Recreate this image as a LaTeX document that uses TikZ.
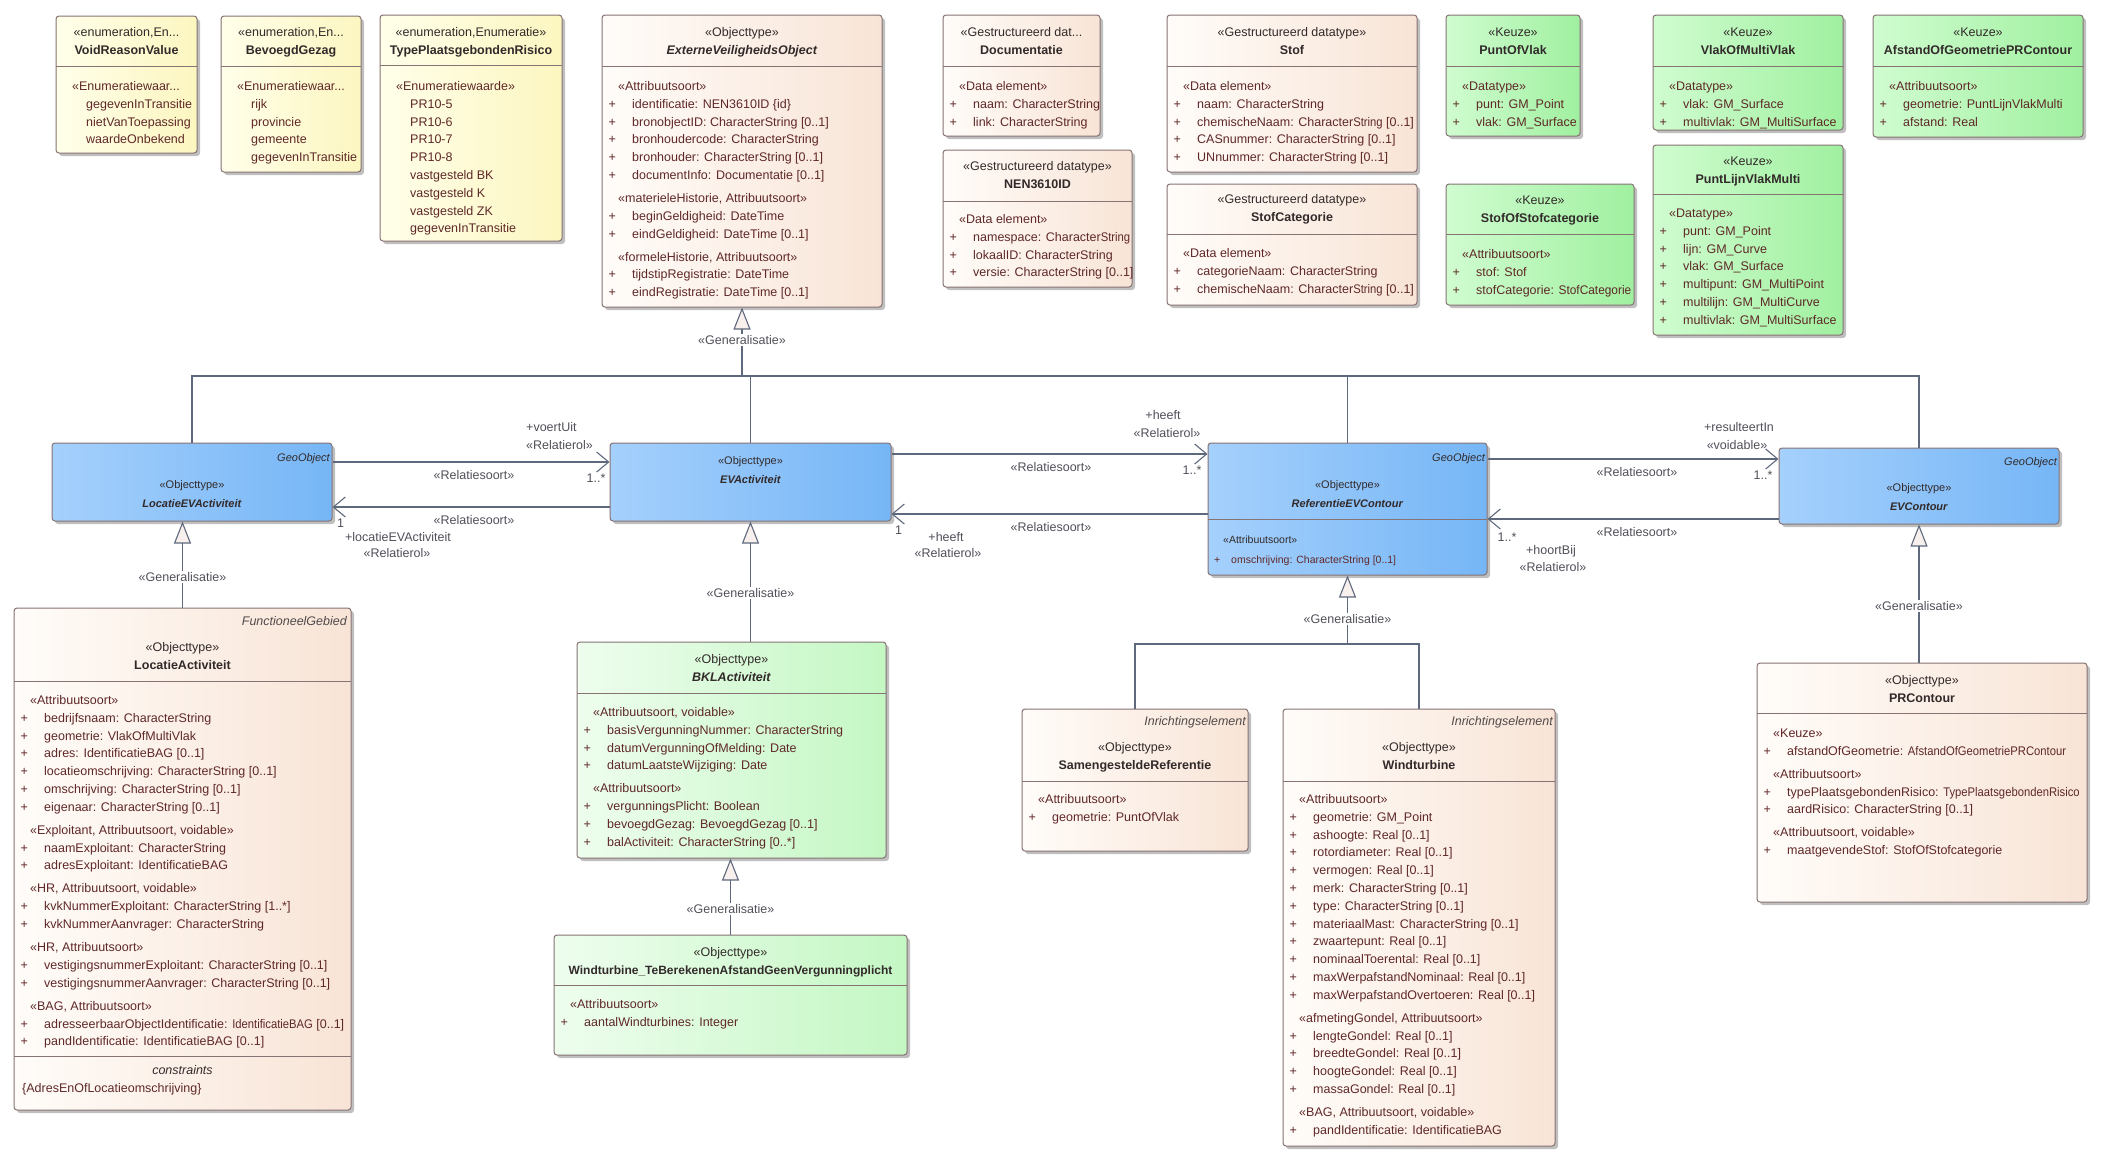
\documentclass[tikz,border=0pt]{standalone}
\usepackage{fontspec}
\usepackage{graphicx}
\setmainfont{Liberation Sans}
\usetikzlibrary{arrows.meta,shadows,fit}
\definecolor{bordc}{RGB}{135,115,115}
\definecolor{yelL}{RGB}{255,255,234}
\definecolor{yelR}{RGB}{252,246,192}
\definecolor{begL}{RGB}{255,252,249}
\definecolor{begR}{RGB}{248,228,214}
\definecolor{grnL}{RGB}{208,252,208}
\definecolor{grnR}{RGB}{160,240,160}
\definecolor{lgL}{RGB}{238,253,238}
\definecolor{lgR}{RGB}{196,247,196}
\definecolor{bluL}{RGB}{165,208,252}
\definecolor{bluR}{RGB}{118,182,246}
\definecolor{txt}{RGB}{50,42,42}
\definecolor{atc}{RGB}{95,40,40}
\definecolor{lnc}{RGB}{95,105,125}
\definecolor{lbl}{RGB}{80,80,90}
\definecolor{trif}{RGB}{248,240,236}
\newcommand\fn{\fontsize{12.5}{17.8}\selectfont}
\newcommand\fb{\fontsize{11}{19}\selectfont}
\newcommand\sh[1]{\multicolumn{2}{@{\hspace{9.5pt}}l@{}}{\rule{0pt}{17.7pt}#1}\\}
\newcommand\ai[1]{+&#1\\}
\newcommand\ei[1]{&#1\\}
\newcommand\sq[1]{\scalebox{0.9}[1]{#1}}
\newcommand\cls[7]{\node[#2,fit={(#3,#4)(#5,#6)}] (#1) {};\draw[sepl] (#3,#7) -- (#5,#7);}
\newcommand\hdr[4]{\node[hdn] (#1) at (#2,#3) {\begin{tabular}[t]{@{}c@{}}#4\end{tabular}};}
\newcommand\atr[4]{\node[atn] (#1) at (#2,#3) {\begin{tabular}[t]{@{}p{23.5pt}@{}l@{}}#4\end{tabular}};}
\begin{document}
\begin{tikzpicture}[x=1pt,y=-1pt,font=\fn,
 box/.style={draw=bordc,line width=1pt,rounded corners=3pt,inner sep=0pt,
   drop shadow={shadow xshift=3pt,shadow yshift=-3pt,opacity=0.25,fill=black}},
 enum/.style={box,left color=yelL,right color=yelR},
 obj/.style={box,left color=begL,right color=begR},
 keuze/.style={box,left color=grnL,right color=grnR},
 lgreen/.style={box,left color=lgL,right color=lgR},
 blue/.style={box,left color=bluL,right color=bluR},
 sepl/.style={draw=bordc,line width=1pt},
 hdn/.style={anchor=base,inner sep=0pt,text=txt},
 bhd/.style={hdn,font=\fb},
 atn/.style={anchor=base west,inner sep=0pt,text=atc},
 geo/.style={anchor=base east,inner sep=0pt,text=txt,font=\fb\itshape},
 inr/.style={anchor=base east,inner sep=0pt,text=txt!85,font=\fn\itshape},
 conn/.style={draw=lnc,line width=1.1pt},
 genar/.style={conn,-{Triangle[length=22pt,width=17pt,fill=trif]}},
 assoc/.style={conn,-{Straight Barb[length=12pt,width=20pt]}},
 lab/.style={inner sep=0pt,text=lbl,anchor=base},
 labw/.style={lab,anchor=base west},
 glab/.style={fill=white,inner sep=1.5pt,text=lbl}]
\fill[white] (0,0) rectangle (2104,1163);
\useasboundingbox (0,0) rectangle (2104,1163);

% ---------- top row ----------
\cls{void}{enum}{56}{16}{197}{153}{66}
\hdr{voidh}{126.5}{36.5}{«enumeration,En...\\\textbf{VoidReasonValue}}
\atr{voida}{62.5}{90.5}{\sh{«Enumeratiewaar...}\ei{gegevenInTransitie}\ei{nietVanToepassing}\ei{waardeOnbekend}}

\cls{bev}{enum}{221}{16}{361}{172}{66}
\hdr{bevh}{291}{36.5}{«enumeration,En...\\\textbf{BevoegdGezag}}
\atr{beva}{227.5}{90.5}{\sh{«Enumeratiewaar...}\ei{rijk}\ei{provincie}\ei{gemeente}\ei{gegevenInTransitie}}

\cls{typ}{enum}{380}{15}{562}{241}{65}
\hdr{typh}{471}{36.5}{«enumeration,Enumeratie»\\\textbf{TypePlaatsgebondenRisico}}
\atr{typa}{386.5}{90.5}{\sh{«Enumeratiewaarde»}\ei{PR10-5}\ei{PR10-6}\ei{PR10-7}\ei{PR10-8}\ei{vastgesteld BK}\ei{vastgesteld K}\ei{vastgesteld ZK}\ei{gegevenInTransitie}}

\cls{evo}{obj}{602}{15}{882}{307}{66}
\hdr{evoh}{742}{36.5}{«Objecttype»\\\textbf{\textit{ExterneVeiligheidsObject}}}
\atr{evoa}{608.5}{90.5}{\sh{«Attribuutsoort»}\ai{identificatie: NEN3610ID \{id\}}\ai{bronobjectID: CharacterString [0..1]}\ai{bronhoudercode: CharacterString}\ai{bronhouder: CharacterString [0..1]}\ai{documentInfo: Documentatie [0..1]}\sh{«materieleHistorie, Attribuutsoort»}\ai{beginGeldigheid: DateTime}\ai{eindGeldigheid: DateTime [0..1]}\sh{«formeleHistorie, Attribuutsoort»}\ai{tijdstipRegistratie: DateTime}\ai{eindRegistratie: DateTime [0..1]}}

\cls{doc}{obj}{943}{15}{1100}{136}{66}
\hdr{doch}{1021.5}{36.5}{«Gestructureerd dat...\\\textbf{Documentatie}}
\atr{doca}{949.5}{90.5}{\sh{«Data element»}\ai{naam: CharacterString}\ai{link: CharacterString}}

\cls{nen}{obj}{943}{150}{1132}{287}{201}
\hdr{nenh}{1037.5}{170.5}{«Gestructureerd datatype»\\\textbf{NEN3610ID}}
\atr{nena}{949.5}{223.5}{\sh{«Data element»}\ai{namespace: Character\sq{String}}\ai{lokaalID: CharacterString}\ai{versie: CharacterString [0..1]}}

\cls{stof}{obj}{1167}{15}{1417}{172}{66}
\hdr{stofh}{1292}{36.5}{«Gestructureerd datatype»\\\textbf{Stof}}
\atr{stofa}{1173.5}{90.5}{\sh{«Data element»}\ai{naam: CharacterString}\ai{chemischeNaam: Character\sq{String} [0..1]}\ai{CASnummer: CharacterString [0..1]}\ai{UNnummer: CharacterString [0..1]}}

\cls{stofcat}{obj}{1167}{184}{1417}{305}{234}
\hdr{stofcath}{1292}{203.5}{«Gestructureerd datatype»\\\textbf{StofCategorie}}
\atr{stofcata}{1173.5}{257.5}{\sh{«Data element»}\ai{categorieNaam: CharacterString}\ai{chemischeNaam: Character\sq{String} [0..1]}}

\cls{pov}{keuze}{1446}{15}{1580}{136}{66}
\hdr{povh}{1513}{36.5}{«Keuze»\\\textbf{PuntOfVlak}}
\atr{pova}{1452.5}{90.5}{\sh{«Datatype»}\ai{punt: GM\_Point}\ai{vlak: GM\_Surface}}

\cls{vomv}{keuze}{1653}{15}{1843}{130}{66}
\hdr{vomvh}{1748}{36.5}{«Keuze»\\\textbf{VlakOfMultiVlak}}
\atr{vomva}{1659.5}{90.5}{\sh{«Datatype»}\ai{vlak: GM\_Surface}\ai{multivlak: GM\_MultiSurface}}

\cls{agpr}{keuze}{1873}{15}{2083}{137}{66}
\hdr{agprh}{1978}{36.5}{«Keuze»\\\textbf{AfstandOfGeometriePRContour}}
\atr{agpra}{1879.5}{90.5}{\sh{«Attribuutsoort»}\ai{geometrie: PuntLijnVlakMulti}\ai{afstand: Real}}

\cls{sos}{keuze}{1446}{184}{1634}{305}{234}
\hdr{sosh}{1540}{204.5}{«Keuze»\\\textbf{StofOfStofcategorie}}
\atr{sosa}{1452.5}{258.5}{\sh{«Attribuutsoort»}\ai{stof: Stof}\ai{stofCategorie: \scalebox{0.95}[1]{StofCategorie}}}

\cls{plvm}{keuze}{1653}{145}{1843}{335}{194}
\hdr{plvmh}{1748}{165.5}{«Keuze»\\\textbf{PuntLijnVlakMulti}}
\atr{plvma}{1659.5}{217.5}{\sh{«Datatype»}\ai{punt: GM\_Point}\ai{lijn: GM\_Curve}\ai{vlak: GM\_Surface}\ai{multipunt: GM\_MultiPoint}\ai{multilijn: GM\_MultiCurve}\ai{multivlak: GM\_MultiSurface}}

% ---------- blue row ----------
\node[blue,fit={(52,443)(332,521)}] (locev) {};
\node[geo] (locevg) at (330,461.5) {GeoObject};
\node[bhd] (locevh) at (192,488.5) {\begin{tabular}[t]{@{}c@{}}«Objecttype»\\\textbf{\textit{LocatieEVActiviteit}}\end{tabular}};

\node[blue,fit={(610,443)(891,521)}] (evact) {};
\node[bhd] (evacth) at (750.5,464.5) {\begin{tabular}[t]{@{}c@{}}«Objecttype»\\\textbf{\textit{EVActiviteit}}\end{tabular}};

\cls{refev}{blue}{1208}{443}{1487}{575}{519}
\node[geo] (refevg) at (1485,461.5) {GeoObject};
\node[bhd] (refevh) at (1347.5,488.5) {\begin{tabular}[t]{@{}c@{}}«Objecttype»\\\textbf{\textit{ReferentieEVContour}}\end{tabular}};
\node[atn,font=\fontsize{10.5}{20}\selectfont] (refeva) at (1214,543.5) {\begin{tabular}[t]{@{}p{17pt}@{}l@{}}\multicolumn{2}{@{\hspace{9pt}}l@{}}{\textcolor{txt}{«Attribuutsoort»}}\\+&omschrijving: CharacterString [0..1]\end{tabular}};

\node[blue,fit={(1779,448)(2059,524)}] (evc) {};
\node[geo] (evcg) at (2057,465.5) {GeoObject};
\node[bhd] (evch) at (1919,491.5) {\begin{tabular}[t]{@{}c@{}}«Objecttype»\\\textbf{\textit{EVContour}}\end{tabular}};

% ---------- bottom row ----------
\node[obj,fit={(14,608)(351,1110)}] (locact) {};
\draw[sepl] (14,681) -- (351,681);
\draw[sepl] (14,1056) -- (351,1056);
\node[inr] (locacti) at (347,625.5) {FunctioneelGebied};
\hdr{locacth}{182.5}{651.5}{«Objecttype»\\\textbf{LocatieActiviteit}}
\atr{locacta}{20.5}{704.5}{\sh{«Attribuutsoort»}\ai{bedrijfsnaam: CharacterString}\ai{geometrie: VlakOfMultiVlak}\ai{adres: IdentificatieBAG [0..1]}\ai{locatieomschrijving: CharacterString [0..1]}\ai{omschrijving: CharacterString [0..1]}\ai{eigenaar: CharacterString [0..1]}\sh{«Exploitant, Attribuutsoort, voidable»}\ai{naamExploitant: CharacterString}\ai{adresExploitant: IdentificatieBAG}\sh{«HR, Attribuutsoort, voidable»}\ai{kvkNummerExploitant: CharacterString [1..*]}\ai{kvkNummerAanvrager: CharacterString}\sh{«HR, Attribuutsoort»}\ai{vestigingsnummerExploitant: CharacterString [0..1]}\ai{vestigingsnummerAanvrager: CharacterString [0..1]}\sh{«BAG, Attribuutsoort»}\ai{adresseerbaarObjectIdentificatie: \sq{IdentificatieBAG} [0..1]}\ai{pandIdentificatie: IdentificatieBAG [0..1]}}
\node[hdn,font=\fn\itshape] (locactc) at (182.5,1074.5) {constraints};
\node[atn] (locactk) at (22,1092.5) {\{AdresEnOfLocatieomschrijving\}};

\cls{bkl}{lgreen}{577}{642}{886}{858}{693}
\hdr{bklh}{731.5}{663.5}{«Objecttype»\\\textbf{\textit{BKLActiviteit}}}
\atr{bkla}{583.5}{716.5}{\sh{«Attribuutsoort, voidable»}\ai{basisVergunningNummer: CharacterString}\ai{datumVergunningOfMelding: Date}\ai{datumLaatsteWijziging: Date}\sh{«Attribuutsoort»}\ai{vergunningsPlicht: Boolean}\ai{bevoegdGezag: BevoegdGezag [0..1]}\ai{balActiviteit: CharacterString [0..*]}}

\cls{wtbte}{lgreen}{554}{935}{907}{1055}{985}
\hdr{wtbteh}{730.5}{956.5}{«Objecttype»\\{\fontsize{12}{17.8}\selectfont\textbf{Windturbine\_TeBerekenenAfstandGeenVergunningplicht}}}
\atr{wtbtea}{560.5}{1008.5}{\sh{«Attribuutsoort»}\ai{aantalWindturbines: Integer}}

\cls{samen}{obj}{1022}{709}{1248}{851}{781}
\node[inr] (sameni) at (1246,725.5) {Inrichtingselement};
\hdr{samenh}{1135}{751.5}{«Objecttype»\\\textbf{SamengesteldeReferentie}}
\atr{samena}{1028.5}{803.5}{\sh{«Attribuutsoort»}\ai{geometrie: PuntOfVlak}}

\cls{wtb}{obj}{1283}{709}{1555}{1146}{781}
\node[inr] (wtbi) at (1553,725.5) {Inrichtingselement};
\hdr{wtbh}{1419}{751.5}{«Objecttype»\\\textbf{Windturbine}}
\atr{wtba}{1289.5}{803.5}{\sh{«Attribuutsoort»}\ai{geometrie: GM\_Point}\ai{ashoogte: Real [0..1]}\ai{rotordiameter: Real [0..1]}\ai{vermogen: Real [0..1]}\ai{merk: CharacterString [0..1]}\ai{type: CharacterString [0..1]}\ai{materiaalMast: CharacterString [0..1]}\ai{zwaartepunt: Real [0..1]}\ai{nominaalToerental: Real [0..1]}\ai{maxWerpafstandNominaal: Real [0..1]}\ai{maxWerpafstandOvertoeren: Real [0..1]}\sh{«afmetingGondel, Attribuutsoort»}\ai{lengteGondel: Real [0..1]}\ai{breedteGondel: Real [0..1]}\ai{hoogteGondel: Real [0..1]}\ai{massaGondel: Real [0..1]}\sh{«BAG, Attribuutsoort, voidable»}\ai{pandIdentificatie: IdentificatieBAG}}

\cls{prc}{obj}{1757}{663}{2087}{902}{713}
\hdr{prch}{1922}{684.5}{«Objecttype»\\\textbf{PRContour}}
\atr{prca}{1763.5}{737.5}{\sh{«Keuze»}\ai{afstandOfGeometrie: \sq{AfstandOfGeometriePRContour}}\sh{«Attribuutsoort»}\ai{typePlaatsgebondenRisico: \sq{TypePlaatsgebondenRisico}}\ai{aardRisico: CharacterString [0..1]}\sh{«Attribuutsoort, voidable»}\ai{maatgevendeStof: StofOfStofcategorie}}

% ---------- generalisations ----------
\coordinate (gtop) at (742,376);
\coordinate (rtop) at (1347.5,644);
\draw[conn] (locev.north) |- (gtop) -| (evc.north);
\draw[conn] (evact.north) -- (evact.north |- gtop);
\draw[conn] (refev.north) -- (refev.north |- gtop);
\draw[genar] (gtop) -- (evo.south);
\node[glab] (g1) at (742,340) {«Generalisatie»};

\draw[genar] (locact.north) -- (locact.north |- locev.south);
\node[glab] (g2) at (182.5,577) {«Generalisatie»};

\draw[genar] (evact.south |- bkl.north) -- (evact.south);
\node[glab] (g3) at (750.5,593) {«Generalisatie»};

\draw[genar] (wtbte.north) -- (wtbte.north |- bkl.south);
\node[glab] (g4) at (730.5,909) {«Generalisatie»};

\draw[conn] (samen.north) |- (rtop) -| (wtb.north);
\draw[genar] (rtop) -- (refev.south);
\node[glab] (g5) at (1347.5,619) {«Generalisatie»};

\draw[genar] (evc.south |- prc.north) -- (evc.south);
\node[glab] (g6) at (1919,606) {«Generalisatie»};

% ---------- associations ----------
\draw[assoc] (locev.east |- 0,462) -- (evact.west |- 0,462);
\node[labw] (a1a) at (526,431.5) {+voertUit};
\node[labw] (a1b) at (526,449.5) {«Relatierol»};
\node[lab] (a1c) at (596,482.5) {1..*};
\node[lab] (a1d) at (474,479.5) {«Relatiesoort»};

\draw[assoc] (evact.west |- 0,507) -- (locev.east |- 0,507);
\node[labw] (a2a) at (337,527.5) {1};
\node[lab] (a2b) at (398,541.5) {+locatieEVActiviteit};
\node[lab] (a2c) at (397,557.5) {«Relatierol»};
\node[lab] (a2d) at (474,524.5) {«Relatiesoort»};

\draw[assoc] (evact.east |- 0,454) -- (refev.west |- 0,454);
\node[lab] (a3a) at (1163,419.5) {+heeft};
\node[lab] (a3b) at (1167,437.5) {«Relatierol»};
\node[lab] (a3c) at (1192,474.5) {1..*};
\node[lab] (a3d) at (1051,471.5) {«Relatiesoort»};

\draw[assoc] (refev.west |- 0,514) -- (evact.east |- 0,514);
\node[labw] (a4a) at (895,534.5) {1};
\node[lab] (a4b) at (946,541.5) {+heeft};
\node[lab] (a4c) at (948,557.5) {«Relatierol»};
\node[lab] (a4d) at (1051,531.5) {«Relatiesoort»};

\draw[assoc] (refev.east |- 0,459) -- (evc.west |- 0,459);
\node[lab] (a5a) at (1739,431.5) {+resulteertIn};
\node[lab] (a5b) at (1737,449.5) {«voidable»};
\node[lab] (a5c) at (1763,479.5) {1..*};
\node[lab] (a5d) at (1637,476.5) {«Relatiesoort»};

\draw[assoc] (evc.west |- 0,519) -- (refev.east |- 0,519);
\node[lab] (a6a) at (1507,541.5) {1..*};
\node[lab] (a6b) at (1551,554.5) {+hoortBij};
\node[lab] (a6c) at (1553,571.5) {«Relatierol»};
\node[lab] (a6d) at (1637,536.5) {«Relatiesoort»};
\end{tikzpicture}
\end{document}
